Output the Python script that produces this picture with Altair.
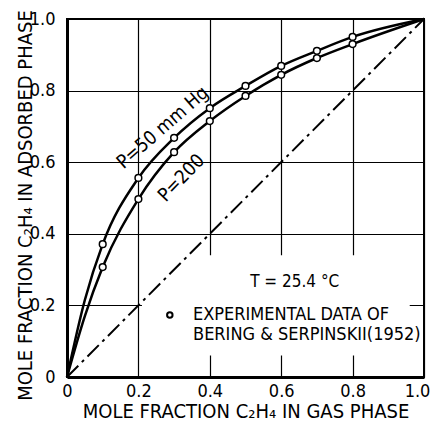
import altair as alt
import pandas as pd

# ---- data ----
x_data = [0.1, 0.2, 0.3, 0.4, 0.5, 0.6, 0.7, 0.8]
y_p50 = [0.371, 0.556, 0.668, 0.751, 0.813, 0.869, 0.911, 0.950]
y_p200 = [0.307, 0.497, 0.628, 0.715, 0.785, 0.844, 0.891, 0.930]

# drawn curves: origin, a reading near the origin, the data, and the (1,1) end
curve_x = [0.0, 0.05] + x_data + [1.0]
curve_p50 = [0.0, 0.215] + y_p50 + [1.0]
curve_p200 = [0.0, 0.17] + y_p200 + [1.0]

diag_x = [0.0, 1.0]
diag_y = [0.0, 1.0]

tick_values = [0, 0.2, 0.4, 0.6, 0.8, 1.0]

series_names = ["P=50 mm Hg", "P=200"]

FONT = "DejaVu Sans Condensed, DejaVu Sans"

curves = pd.DataFrame(
    {"x": curve_x * 2,
     "y": curve_p50 + curve_p200,
     "s": [series_names[0]] * len(curve_x) + [series_names[1]] * len(curve_x)}
)
points = pd.DataFrame(
    {"x": x_data * 2,
     "y": y_p50 + y_p200,
     "s": [series_names[0]] * len(x_data) + [series_names[1]] * len(x_data)}
)
diag = pd.DataFrame({"x": diag_x, "y": diag_y})

xscale = alt.Scale(domain=[0, 1], nice=False, zero=False)
yscale = alt.Scale(domain=[0, 1], nice=False, zero=False)

label_expr = "datum.value == 0 ? '0' : format(datum.value, '.1f')"

X = alt.X("x:Q", scale=xscale, axis=alt.Axis(
    values=tick_values, labelExpr=label_expr, labelFlush=False,
    labelOffset={"condition": {"test": "datum.value == 1", "value": -7}, "value": 0},
    title="MOLE FRACTION C\u2082H\u2084 IN GAS PHASE",
    labelPadding=5, titleY=40, titleBaseline="alphabetic",
))
Y = alt.Y("y:Q", scale=yscale, axis=alt.Axis(
    values=tick_values, labelExpr=label_expr, labelFlush=False,
    title="MOLE FRACTION C\u2082H\u2084 IN ADSORBED PHASE",
    labelPadding=12, titleX=-42, titleBaseline="middle", titleY=186,
))

# white box behind the note
box = alt.Chart(pd.DataFrame({"x": [0.21], "x2": [0.96], "y": [0.06], "y2": [0.34]})).mark_rect(
    fill="white", stroke=None
).encode(x=X, x2="x2:Q", y=Y, y2="y2:Q")

diag_line = alt.Chart(diag).mark_line(
    color="black", strokeWidth=2, strokeDash=[16, 5, 3, 5]
).encode(x=X, y=Y)

curve_lines = alt.Chart(curves).mark_line(
    color="black", strokeWidth=2.5, interpolate="monotone"
).encode(x=X, y=Y, detail="s:N")

pts = alt.Chart(points).mark_point(
    shape="circle", filled=True, fill="white", stroke="black", strokeWidth=1.5, size=45, opacity=1
).encode(x=X, y=Y, detail="s:N")

lab50 = alt.Chart(pd.DataFrame({"x": [0.268], "y": [0.697], "t": [series_names[0]]})).mark_text(
    font=FONT, fontSize=19, angle=319, align="center", baseline="middle", color="black"
).encode(x=X, y=Y, text="t:N")

lab200 = alt.Chart(pd.DataFrame({"x": [0.32], "y": [0.556], "t": [series_names[1]]})).mark_text(
    font=FONT, fontSize=19, angle=314, align="center", baseline="middle", color="black"
).encode(x=X, y=Y, text="t:N")

temp = alt.Chart(pd.DataFrame({"x": [0.513], "y": [0.265], "t": ["T = 25.4 \u00b0C"]})).mark_text(
    font=FONT, fontSize=17, align="left", baseline="middle", color="black"
).encode(x=X, y=Y, text="t:N")

legend_txt = alt.Chart(pd.DataFrame({
    "x": [0.353, 0.353], "y": [0.173, 0.117],
    "t": ["EXPERIMENTAL DATA OF", "BERING & SERPINSKII(1952)"]})).mark_text(
    font=FONT, fontSize=18, align="left", baseline="middle", color="black"
).encode(x=X, y=Y, text="t:N")

legend_pt = alt.Chart(pd.DataFrame({"x": [0.288], "y": [0.173]})).mark_point(
    shape="circle", filled=True, fill="white", stroke="black", strokeWidth=2, size=30, opacity=1
).encode(x=X, y=Y)

chart = alt.layer(
    box, diag_line, curve_lines, pts, lab50, lab200, temp, legend_txt, legend_pt
).properties(
    width=357, height=358,
    padding={"left": 59, "top": 11, "right": 7, "bottom": 46},
    autosize=alt.AutoSizeParams(type="none"),
    background="white",
).configure_view(
    stroke="black", strokeWidth=2
).configure_axis(
    grid=True, gridColor="black", gridWidth=1.2, gridOpacity=1,
    domain=True, domainColor="black", domainWidth=3,
    ticks=False, tickSize=0,
    labelFont=FONT, labelFontSize=18, labelColor="black",
    titleFont=FONT, titleFontSize=20, titleFontWeight="normal", titleColor="black",
)

chart.save("out.html", embed_options={"renderer": "svg", "actions": False})
